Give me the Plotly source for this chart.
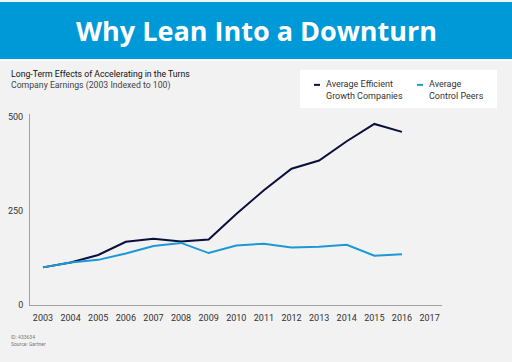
import plotly.graph_objects as go

years = list(range(2003, 2017))
efficient = [100, 113, 133, 168, 176, 169, 174, 242, 305, 362, 384, 435, 481, 460]
control = [100, 113, 120, 137, 157, 165, 138, 158, 163, 153, 155, 160, 131, 135]
x_ticks = list(range(2003, 2018))
y_ticks = [0, 250, 500]
names = ["Average Efficient<br>Growth Companies", "Average<br>Control Peers"]
colors = ["#0b0f3d", "#1b98d5"]

W, H = 512, 362
def px(x):
    return x / W
def py(y):
    return 1 - y / H

FONT = "Roboto"
fig = go.Figure()
for vals, name, col in zip([efficient, control], names, colors):
    fig.add_trace(go.Scatter(x=years, y=vals, mode="lines", name=name,
                             line=dict(color=col, width=2), showlegend=False))

fig.update_layout(
    width=W, height=H,
    margin=dict(l=0, r=0, t=0, b=0),
    paper_bgcolor="#f2f2f2", plot_bgcolor="#f2f2f2",
    xaxis=dict(domain=[px(30), px(442)], range=[2002.53, 2017.45],
               tickvals=x_ticks, ticktext=[str(t) for t in x_ticks],
               showgrid=False, zeroline=False, showline=True, linecolor="#a0a0a0",
               linewidth=1, ticks="", ticklabelstandoff=4,
               tickfont=dict(family=FONT, size=9, color="#333333")),
    yaxis=dict(domain=[py(309), py(114)], range=[0, 508],
               tickvals=y_ticks, showgrid=False, zeroline=False, showline=True,
               linecolor="#a0a0a0", linewidth=1, ticks="", ticklabelstandoff=4,
               tickfont=dict(family=FONT, size=9, color="#333333")),
    showlegend=False,
)

shapes = [
    dict(type="rect", xref="paper", yref="paper", x0=0, x1=1, y0=py(58), y1=1,
         fillcolor="#0099d8", line_width=0, layer="below"),
    dict(type="rect", xref="paper", yref="paper", x0=0, x1=1, y0=py(60), y1=py(58),
         fillcolor="#ffffff", line_width=0, layer="below"),
    dict(type="rect", xref="paper", yref="paper", x0=px(300), x1=px(497), y0=py(108), y1=py(69),
         fillcolor="#ffffff", line_width=0, layer="below"),
    dict(type="line", xref="paper", yref="paper", x0=px(314), x1=px(320), y0=py(84.5), y1=py(84.5),
         line=dict(color=colors[0], width=2)),
    dict(type="line", xref="paper", yref="paper", x0=px(417), x1=px(423), y0=py(84.5), y1=py(84.5),
         line=dict(color=colors[1], width=2)),
]
fig.update_layout(shapes=shapes)

ann = [
    dict(text="<b>Why Lean Into a Downturn</b>", x=0.5, y=py(29), xanchor="center", yanchor="middle",
         font=dict(family="Open Sans", size=27, color="#ffffff")),
    dict(text="Long-Term Effects of Accelerating in the Turns", x=px(9), y=py(73.7), xanchor="left",
         yanchor="middle", font=dict(family=FONT, size=8.7, color="#111111")),
    dict(text="Company Earnings (2003 Indexed to 100)", x=px(9), y=py(84.7), xanchor="left",
         yanchor="middle", font=dict(family=FONT, size=8.7, color="#444444")),
    dict(text=names[0], x=px(324), y=py(90), xanchor="left", yanchor="middle", align="left",
         font=dict(family=FONT, size=9, color="#333333")),
    dict(text=names[1], x=px(426.5), y=py(90), xanchor="left", yanchor="middle", align="left",
         font=dict(family=FONT, size=9, color="#333333")),
    dict(text="ID: 433634", x=px(9), y=py(341.5), xanchor="left", yanchor="middle",
         font=dict(family=FONT, size=5, color="#777777")),
    dict(text="Source: Gartner", x=px(9), y=py(349), xanchor="left", yanchor="middle",
         font=dict(family=FONT, size=5, color="#777777")),
]
for a in ann:
    a.update(xref="paper", yref="paper", showarrow=False)
fig.update_layout(annotations=ann)

fig.write_html("out.html", config={"displayModeBar": False},
               post_script="document.body.style.margin='0';document.body.style.overflow='hidden';")
